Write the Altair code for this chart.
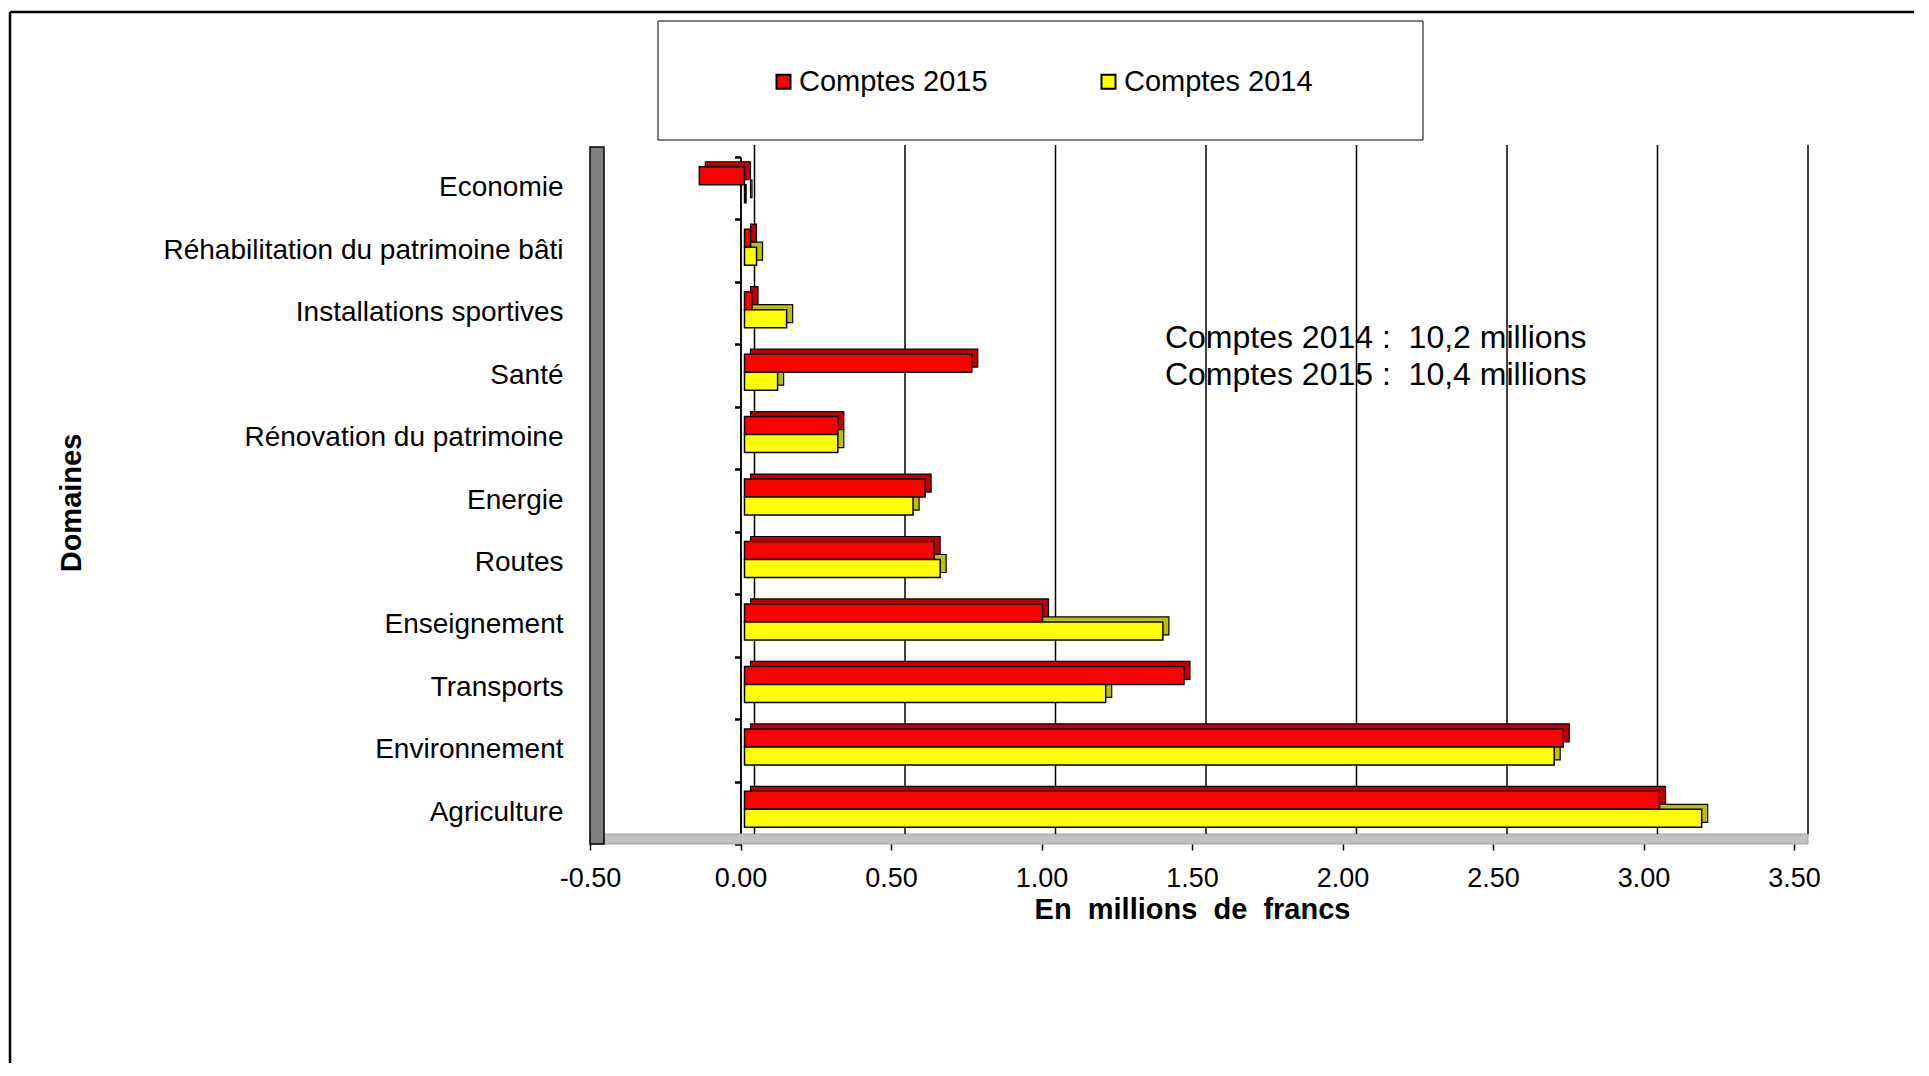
import altair as alt
import pandas as pd

# ---------------- data ----------------
categories = [
    "Economie",
    "Réhabilitation du patrimoine bâti",
    "Installations sportives",
    "Santé",
    "Rénovation du patrimoine",
    "Energie",
    "Routes",
    "Enseignement",
    "Transports",
    "Environnement",
    "Agriculture",
]
comptes_2015 = [-0.15, 0.02, 0.025, 0.755, 0.31, 0.60, 0.63, 0.99, 1.46, 2.72, 3.04]
comptes_2014 = [0.005, 0.04, 0.14, 0.11, 0.31, 0.56, 0.65, 1.39, 1.20, 2.69, 3.18]
series_names = ["Comptes 2015", "Comptes 2014"]
x_ticks = [-0.5, 0.0, 0.5, 1.0, 1.5, 2.0, 2.5, 3.0, 3.5]
annotation_lines = ["Comptes 2014 :\u00a0 10,2 millions", "Comptes 2015 :\u00a0 10,4 millions"]
x_title = "En\u00a0 millions\u00a0 de\u00a0 francs"
y_title = "Domaines"

# ---------------- layout ----------------
W, H = 1204, 687
FONT = "Liberation Sans"

df = pd.DataFrame({
    "Domaine": categories * 2,
    "Série": [series_names[0]] * len(categories) + [series_names[1]] * len(categories),
    "Valeur": comptes_2015 + comptes_2014,
})
grid_df = pd.DataFrame({"t": x_ticks[1:]})
one = pd.DataFrame({"a": [0]})

x_scale = alt.Scale(domain=[x_ticks[0], x_ticks[-1]], nice=False, zero=False)
y_scale = alt.Scale(domain=categories, paddingInner=0, paddingOuter=0)

x_axis = alt.Axis(
    orient="bottom", values=x_ticks,
    labelExpr="replace(format(datum.value, '.2f'), '\u2212', '-')",
    grid=False, domain=False, labelFlush=False, labelOverlap=False,
    ticks=True, tickSize=6, tickColor="black", tickWidth=1.5,
    labelFont=FONT, labelFontSize=27, labelColor="black", labelPadding=15,
    title=x_title, titleFont=FONT, titleFontSize=29, titleFontWeight="bold",
    titleColor="black", titlePadding=4, zindex=2,
)

# floor (light grey strip)
floor = alt.Chart(one).mark_rect(fill="#C0C0C0", stroke="#A0A0A0", strokeWidth=1, x2Offset=14).encode(
    x=alt.XDatum(x_ticks[0], scale=x_scale, axis=x_axis),
    x2=alt.X2Datum(x_ticks[-1]),
    y=alt.value(H - 10),
    y2=alt.value(H),
)

# side wall (dark grey)
wall = alt.Chart(one).mark_rect(fill="#808080", stroke="black", strokeWidth=1.5, x2Offset=14).encode(
    x=alt.XDatum(x_ticks[0], scale=x_scale, axis=x_axis),
    x2=alt.X2Datum(x_ticks[0]),
    y=alt.value(-10),
    y2=alt.value(H),
)

# back-wall gridlines
grid = alt.Chart(grid_df).mark_rule(color="black", strokeWidth=1.5, xOffset=14).encode(
    x=alt.X("t:Q", scale=x_scale, axis=x_axis),
    y=alt.value(-12),
    y2=alt.value(H - 10),
)

# outer frame
frame_top = alt.Chart(one).mark_rule(color="black", strokeWidth=2.5).encode(
    x=alt.value(-580), x2=alt.value(1400), y=alt.value(-145)
)
frame_left = alt.Chart(one).mark_rule(color="black", strokeWidth=2.5).encode(
    x=alt.value(-580), y=alt.value(-145), y2=alt.value(1000)
)

# legend box (outline only)
legend_box = alt.Chart(one).mark_rect(fillOpacity=0, stroke="black", strokeWidth=1).encode(
    x=alt.value(68), x2=alt.value(833), y=alt.value(-136), y2=alt.value(-17)
)

# 3D side faces (shifted darker copies), one layer per series
def shadow_layer(name, shade):
    return alt.Chart(df).transform_filter(alt.datum["Série"] == name).mark_bar(
        fill=shade, stroke="black", strokeWidth=1.2, xOffset=10, x2Offset=10
    ).encode(
        x=alt.X("Valeur:Q", scale=x_scale, axis=x_axis),
        y=alt.Y(
            "Domaine:N",
            scale=y_scale,
            axis=alt.Axis(
                orient="left", offset=-150.5, labels=False, title=None,
                domain=True, domainColor="black", domainWidth=1.5,
                ticks=True, tickBand="extent", tickSize=6, tickColor="black", tickWidth=2,
            ),
        ),
        yOffset=alt.YOffset(
            "Série:N",
            scale=alt.Scale(domain=series_names, paddingInner=0, paddingOuter=0.735, align=0.18),
        ),
    )

shadow_2015 = shadow_layer(series_names[0], "#C00000")
shadow_2014 = shadow_layer(series_names[1], "#BFBF00")

# front faces
front = alt.Chart(df).mark_bar(stroke="black", strokeWidth=1.5, xOffset=4, x2Offset=4).encode(
    x=alt.X("Valeur:Q", scale=x_scale, axis=x_axis),
    y=alt.Y(
        "Domaine:N",
        scale=y_scale,
        axis=alt.Axis(
            orient="left", domain=False, ticks=False,
            labelFont=FONT, labelFontSize=28, labelColor="black", labelPadding=27, labelLimit=0,
            title=y_title, titleFont=FONT, titleFontSize=29, titleFontWeight="bold",
            titleColor="black", titleAngle=270, titleBaseline="alphabetic", titleAlign="center",
            titleX=-510, titleY=H / 2 + 2,
        ),
    ),
    yOffset=alt.YOffset(
        "Série:N",
        scale=alt.Scale(domain=series_names, paddingInner=0, paddingOuter=0.735, align=0.37),
    ),
    color=alt.Color(
        "Série:N",
        scale=alt.Scale(domain=series_names, range=["#FF0000", "#FFFF00"]),
        legend=alt.Legend(
            orient="none", legendX=179, legendY=-90, direction="horizontal", title=None,
            symbolType="square", symbolSize=196, symbolStrokeColor="black", symbolStrokeWidth=2,
            symbolOpacity=1,
            labelFont=FONT, labelFontSize=29, labelColor="black", labelOffset=1, labelLimit=0,
            columnPadding=106, padding=0, zindex=2,
        ),
    ),
)

# annotation text
annotation = alt.Chart(one).mark_text(
    text=annotation_lines, font=FONT, fontSize=32, color="black",
    align="left", baseline="alphabetic", lineHeight=37,
).encode(
    x=alt.XDatum(1.41, scale=x_scale, axis=x_axis),
    y=alt.value(191),
)

chart = (
    alt.layer(floor, wall, grid, frame_top, frame_left, legend_box,
              shadow_2015, shadow_2014, front, annotation)
    .resolve_scale(yOffset="independent")
    .resolve_axis(y="independent")
    .properties(
        width=W,
        height=H,
        autosize=alt.AutoSizeParams(type="none"),
        padding={"left": 582, "top": 149, "right": 120, "bottom": 219},
        background="white",
    )
    .configure_view(stroke=None)
)

chart.save("out.html", embed_options={"renderer": "svg", "actions": False})
